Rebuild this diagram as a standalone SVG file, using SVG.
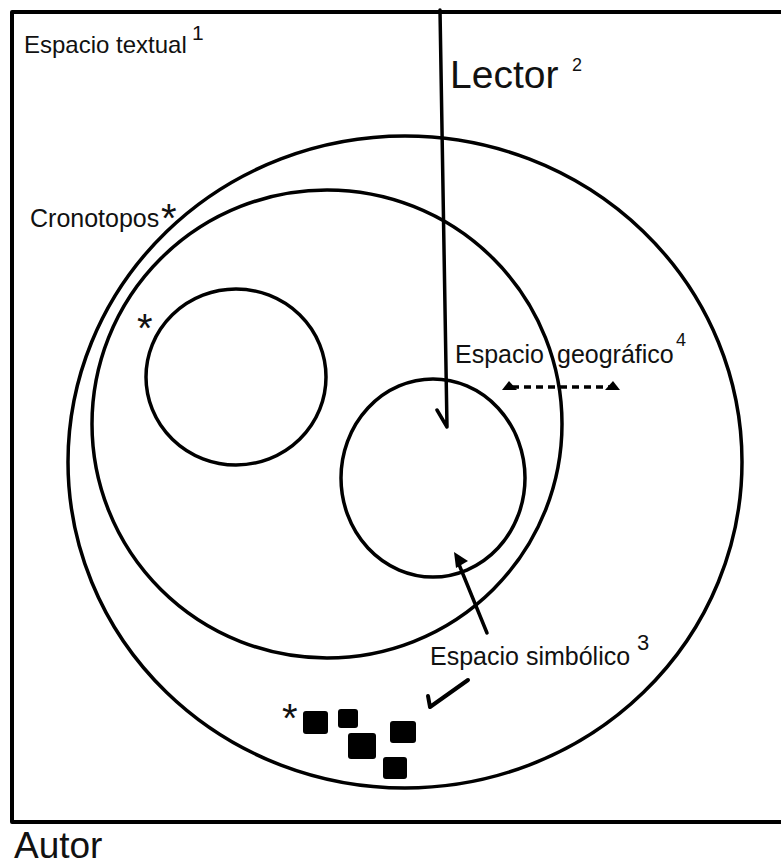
<svg xmlns="http://www.w3.org/2000/svg" width="781" height="865" viewBox="0 0 781 865">
<style>
.ln{fill:none;stroke:#000;stroke-width:3.5;stroke-linecap:round;stroke-linejoin:round}
.t{font-family:"Liberation Sans",Arial,sans-serif;fill:#111}
.sq{fill:#000}
</style>
<rect width="781" height="865" fill="#fff"/>
<g id="espacio-textual">
<rect x="12" y="12" width="790" height="810" class="ln" style="stroke-width:4"/>
<text class="t" x="24" y="53" font-size="24">Espacio textual</text>
<text class="t" x="192" y="40" font-size="21">1</text>
</g>
<g id="cronotopos-outer">
<ellipse cx="405" cy="462" rx="337" ry="326" class="ln"/>
</g>
<g id="cronotopos">
<ellipse cx="327" cy="424" rx="235" ry="234" class="ln"/>
<text class="t" x="30" y="227" font-size="25">Cronotopos</text>
<text class="t" x="161" y="232" font-size="40">*</text>
</g>
<g id="circulo-izquierdo">
<ellipse cx="236" cy="377" rx="90" ry="88" class="ln"/>
<text class="t" x="137" y="342" font-size="40">*</text>
</g>
<g id="circulo-derecho">
<ellipse cx="433" cy="478" rx="92" ry="99" class="ln"/>
</g>
<g id="lector">
<text class="t" x="450" y="88" font-size="39">Lector</text>
<text class="t" x="572" y="71" font-size="18">2</text>
</g>
<g id="espacio-geografico">
<text class="t" y="363" font-size="25"><tspan x="455">Espacio</tspan><tspan x="557">geográfico</tspan></text>
<text class="t" x="676" y="346" font-size="18">4</text>
</g>
<g id="espacio-simbolico">
<text class="t" x="430" y="665" font-size="25">Espacio simbólico</text>
<text class="t" x="637" y="650" font-size="22">3</text>
</g>
<g id="simbolos">
<text class="t" x="282" y="732" font-size="40">*</text>
<rect class="sq" x="303" y="711" width="25" height="23" rx="3"/>
<rect class="sq" x="338" y="709" width="20" height="19" rx="3"/>
<rect class="sq" x="348" y="733" width="28" height="26" rx="3"/>
<rect class="sq" x="390" y="721" width="26" height="22" rx="3"/>
<rect class="sq" x="383" y="757" width="24" height="22" rx="3"/>
</g>
<g id="autor">
<text class="t" x="14" y="858" font-size="37">Autor</text>
</g>
<g id="connectors">
<path class="ln" d="M440,10 L447,427 L437,410"/>
<line class="ln" x1="512" y1="387" x2="611" y2="387" stroke-dasharray="7 5" style="stroke-linecap:butt"/>
<polygon points="502,390 509,381 517,390" fill="#000"/>
<polygon points="605,390 613,381 620,390" fill="#000"/>
<line class="ln" x1="487" y1="633" x2="458" y2="562"/>
<polygon points="454,552 468,561 456,568" fill="#000"/>
<path class="ln" d="M468,680 L430,707 L428,696" style="stroke-width:4"/>
</g>
</svg>
